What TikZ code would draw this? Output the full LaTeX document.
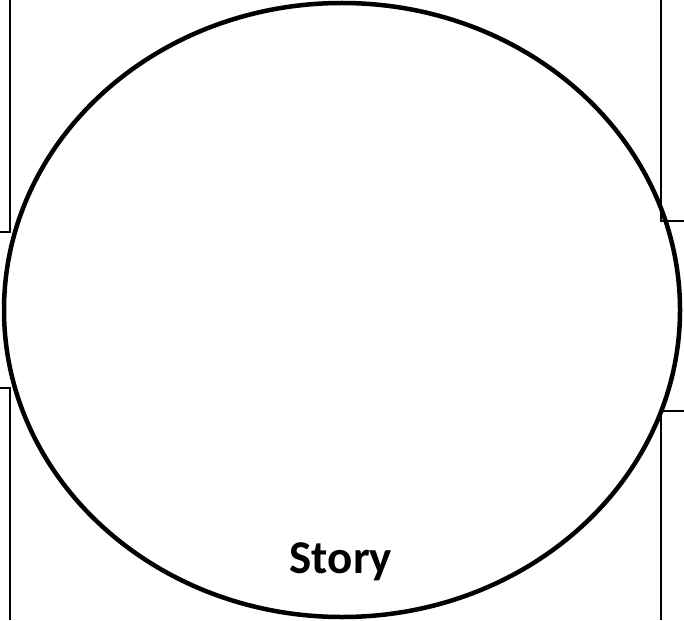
\documentclass[tikz,border=0pt]{standalone}
\usepackage{fontspec}
\setmainfont{Carlito}
\usetikzlibrary{shapes.geometric}
\begin{document}
\begin{tikzpicture}[x=1pt,y=-1pt,
  frame/.style={line width=2pt,draw=black},
  oval/.style={line width=4.5pt,draw=black}]
\useasboundingbox (0,0) rectangle (684,620);
% left frame lines
\coordinate (l1) at (9.5,0);
\coordinate (l2) at (9.5,232);
\coordinate (l3) at (0,232);
\draw[frame] (l1) -- (l2) -- (l3);
\coordinate (l4) at (0,388);
\coordinate (l5) at (9.5,388);
\coordinate (l6) at (9.5,620);
\draw[frame] (l4) -- (l5) -- (l6);
% right frame lines
\coordinate (r1) at (661,0);
\coordinate (r2) at (661,221);
\coordinate (r3) at (684,221);
\draw[frame] (r1) -- (r2) -- (r3);
\coordinate (r4) at (684,411);
\coordinate (r5) at (661,411);
\coordinate (r6) at (661,620);
\draw[frame] (r4) -- (r5) -- (r6);
% ellipse
\node[oval,ellipse,minimum width=676pt,minimum height=614pt,inner sep=0pt] (story) at (342,310) {};
\node[font=\bfseries\fontsize{47}{47}\selectfont,anchor=base] (lbl) at (341,573) {Story};
\end{tikzpicture}
\end{document}
